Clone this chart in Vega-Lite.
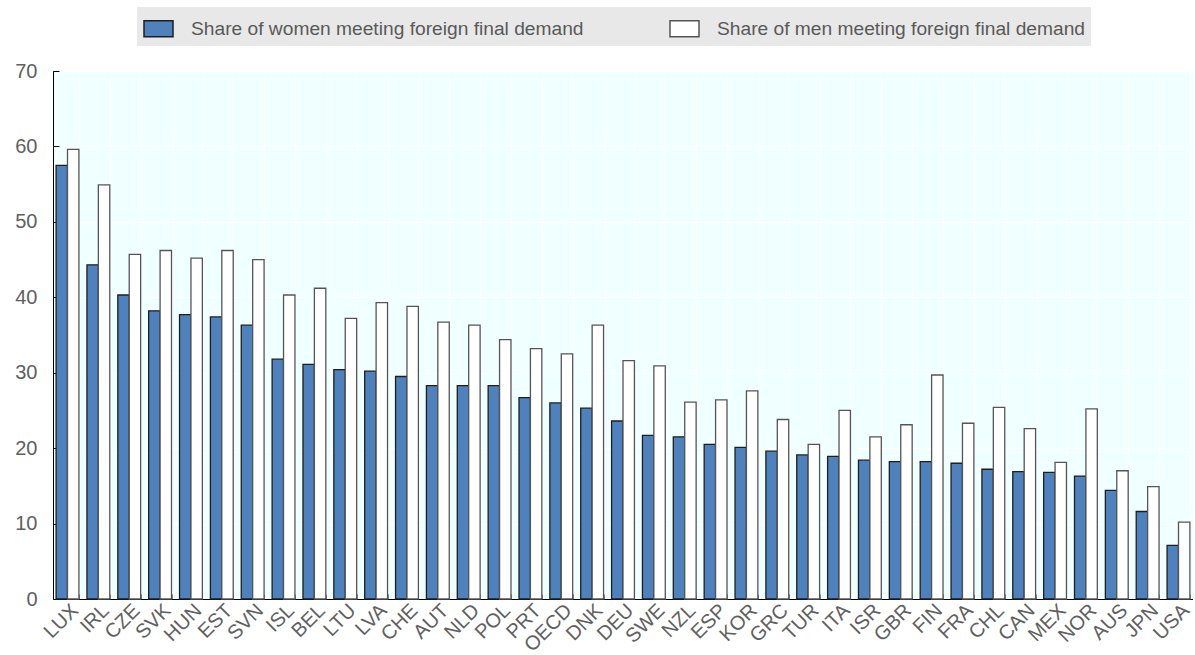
{
  "$schema": "https://vega.github.io/schema/vega-lite/v6.json",
  "autosize": {"type": "none"},
  "padding": {"left": 53, "top": 71, "right": 0, "bottom": 56},
  "width": 1140,
  "height": 528,
  "background": "#ffffff",
  "data": {"values": [
    {"country": "LUX", "sex": "Share of women meeting foreign final demand", "value": 57.5},
    {"country": "LUX", "sex": "Share of men meeting foreign final demand", "value": 59.6},
    {"country": "IRL", "sex": "Share of women meeting foreign final demand", "value": 44.3},
    {"country": "IRL", "sex": "Share of men meeting foreign final demand", "value": 54.9},
    {"country": "CZE", "sex": "Share of women meeting foreign final demand", "value": 40.3},
    {"country": "CZE", "sex": "Share of men meeting foreign final demand", "value": 45.7},
    {"country": "SVK", "sex": "Share of women meeting foreign final demand", "value": 38.2},
    {"country": "SVK", "sex": "Share of men meeting foreign final demand", "value": 46.2},
    {"country": "HUN", "sex": "Share of women meeting foreign final demand", "value": 37.7},
    {"country": "HUN", "sex": "Share of men meeting foreign final demand", "value": 45.2},
    {"country": "EST", "sex": "Share of women meeting foreign final demand", "value": 37.4},
    {"country": "EST", "sex": "Share of men meeting foreign final demand", "value": 46.2},
    {"country": "SVN", "sex": "Share of women meeting foreign final demand", "value": 36.3},
    {"country": "SVN", "sex": "Share of men meeting foreign final demand", "value": 45.0},
    {"country": "ISL", "sex": "Share of women meeting foreign final demand", "value": 31.8},
    {"country": "ISL", "sex": "Share of men meeting foreign final demand", "value": 40.3},
    {"country": "BEL", "sex": "Share of women meeting foreign final demand", "value": 31.1},
    {"country": "BEL", "sex": "Share of men meeting foreign final demand", "value": 41.2},
    {"country": "LTU", "sex": "Share of women meeting foreign final demand", "value": 30.4},
    {"country": "LTU", "sex": "Share of men meeting foreign final demand", "value": 37.2},
    {"country": "LVA", "sex": "Share of women meeting foreign final demand", "value": 30.2},
    {"country": "LVA", "sex": "Share of men meeting foreign final demand", "value": 39.3},
    {"country": "CHE", "sex": "Share of women meeting foreign final demand", "value": 29.5},
    {"country": "CHE", "sex": "Share of men meeting foreign final demand", "value": 38.8},
    {"country": "AUT", "sex": "Share of women meeting foreign final demand", "value": 28.3},
    {"country": "AUT", "sex": "Share of men meeting foreign final demand", "value": 36.7},
    {"country": "NLD", "sex": "Share of women meeting foreign final demand", "value": 28.3},
    {"country": "NLD", "sex": "Share of men meeting foreign final demand", "value": 36.3},
    {"country": "POL", "sex": "Share of women meeting foreign final demand", "value": 28.3},
    {"country": "POL", "sex": "Share of men meeting foreign final demand", "value": 34.4},
    {"country": "PRT", "sex": "Share of women meeting foreign final demand", "value": 26.7},
    {"country": "PRT", "sex": "Share of men meeting foreign final demand", "value": 33.2},
    {"country": "OECD", "sex": "Share of women meeting foreign final demand", "value": 26.0},
    {"country": "OECD", "sex": "Share of men meeting foreign final demand", "value": 32.5},
    {"country": "DNK", "sex": "Share of women meeting foreign final demand", "value": 25.3},
    {"country": "DNK", "sex": "Share of men meeting foreign final demand", "value": 36.3},
    {"country": "DEU", "sex": "Share of women meeting foreign final demand", "value": 23.6},
    {"country": "DEU", "sex": "Share of men meeting foreign final demand", "value": 31.6},
    {"country": "SWE", "sex": "Share of women meeting foreign final demand", "value": 21.7},
    {"country": "SWE", "sex": "Share of men meeting foreign final demand", "value": 30.9},
    {"country": "NZL", "sex": "Share of women meeting foreign final demand", "value": 21.5},
    {"country": "NZL", "sex": "Share of men meeting foreign final demand", "value": 26.1},
    {"country": "ESP", "sex": "Share of women meeting foreign final demand", "value": 20.5},
    {"country": "ESP", "sex": "Share of men meeting foreign final demand", "value": 26.4},
    {"country": "KOR", "sex": "Share of women meeting foreign final demand", "value": 20.1},
    {"country": "KOR", "sex": "Share of men meeting foreign final demand", "value": 27.6},
    {"country": "GRC", "sex": "Share of women meeting foreign final demand", "value": 19.6},
    {"country": "GRC", "sex": "Share of men meeting foreign final demand", "value": 23.8},
    {"country": "TUR", "sex": "Share of women meeting foreign final demand", "value": 19.1},
    {"country": "TUR", "sex": "Share of men meeting foreign final demand", "value": 20.5},
    {"country": "ITA", "sex": "Share of women meeting foreign final demand", "value": 18.9},
    {"country": "ITA", "sex": "Share of men meeting foreign final demand", "value": 25.0},
    {"country": "ISR", "sex": "Share of women meeting foreign final demand", "value": 18.4},
    {"country": "ISR", "sex": "Share of men meeting foreign final demand", "value": 21.5},
    {"country": "GBR", "sex": "Share of women meeting foreign final demand", "value": 18.2},
    {"country": "GBR", "sex": "Share of men meeting foreign final demand", "value": 23.1},
    {"country": "FIN", "sex": "Share of women meeting foreign final demand", "value": 18.2},
    {"country": "FIN", "sex": "Share of men meeting foreign final demand", "value": 29.7},
    {"country": "FRA", "sex": "Share of women meeting foreign final demand", "value": 18.0},
    {"country": "FRA", "sex": "Share of men meeting foreign final demand", "value": 23.3},
    {"country": "CHL", "sex": "Share of women meeting foreign final demand", "value": 17.2},
    {"country": "CHL", "sex": "Share of men meeting foreign final demand", "value": 25.4},
    {"country": "CAN", "sex": "Share of women meeting foreign final demand", "value": 16.9},
    {"country": "CAN", "sex": "Share of men meeting foreign final demand", "value": 22.6},
    {"country": "MEX", "sex": "Share of women meeting foreign final demand", "value": 16.8},
    {"country": "MEX", "sex": "Share of men meeting foreign final demand", "value": 18.1},
    {"country": "NOR", "sex": "Share of women meeting foreign final demand", "value": 16.3},
    {"country": "NOR", "sex": "Share of men meeting foreign final demand", "value": 25.2},
    {"country": "AUS", "sex": "Share of women meeting foreign final demand", "value": 14.4},
    {"country": "AUS", "sex": "Share of men meeting foreign final demand", "value": 17.0},
    {"country": "JPN", "sex": "Share of women meeting foreign final demand", "value": 11.6},
    {"country": "JPN", "sex": "Share of men meeting foreign final demand", "value": 14.9},
    {"country": "USA", "sex": "Share of women meeting foreign final demand", "value": 7.1},
    {"country": "USA", "sex": "Share of men meeting foreign final demand", "value": 10.2}
  ]},
  "mark": {"type": "bar", "strokeWidth": 1.3},
  "encoding": {
    "x": {
      "field": "country", "type": "nominal", "sort": null,
      "scale": {"paddingInner": 0.26, "paddingOuter": 0.1},
      "axis": {
        "title": null, "labelAngle": -45, "labelAlign": "right", "labelBaseline": "top",
        "labelFontSize": 20, "labelColor": "#606060", "labelFont": "Liberation Sans",
        "labelPadding": 6, "tickBand": "extent", "ticks": true, "tickSize": -5,
        "tickColor": "#808080", "domainColor": "#000000", "grid": true, "gridColor": "#ffffff", "gridWidth": 1
      }
    },
    "xOffset": {
      "field": "sex", "type": "nominal",
      "sort": ["Share of women meeting foreign final demand", "Share of men meeting foreign final demand"]
    },
    "y": {
      "field": "value", "type": "quantitative",
      "scale": {"domain": [0, 70], "nice": false},
      "axis": {
        "title": null, "values": [0, 10, 20, 30, 40, 50, 60, 70],
        "labelFontSize": 20, "labelColor": "#606060", "labelFont": "Liberation Sans",
        "labelPadding": 22, "tickSize": -6, "tickColor": "#000000",
        "domainColor": "#000000", "grid": true, "gridColor": "#ffffff", "gridWidth": 1
      }
    },
    "fill": {
      "field": "sex", "type": "nominal",
      "sort": ["Share of women meeting foreign final demand", "Share of men meeting foreign final demand"],
      "scale": {"range": ["#4F81BD", "#FFFFFF"]},
      "legend": {
        "title": null, "orient": "none", "direction": "horizontal",
        "legendX": 84, "legendY": -64, "padding": 6,
        "fillColor": "#E8E8E8",
        "symbolType": "M-1,-0.55H1V0.55H-1Z", "symbolSize": 841, "symbolStrokeWidth": 1.5,
        "labelFontSize": 19.2, "labelFont": "Liberation Sans", "labelColor": "#595959",
        "labelOffset": 17, "columnPadding": 83, "labelLimit": 600,
        "encode": {"symbols": {"update": {
          "fill": {"scale": "fill", "field": "value"},
          "stroke": {"scale": "stroke", "field": "value"},
          "fillOpacity": {"value": 1}
        }}}
      }
    },
    "stroke": {
      "field": "sex", "type": "nominal",
      "sort": ["Share of women meeting foreign final demand", "Share of men meeting foreign final demand"],
      "scale": {"range": ["#1E1E1E", "#555555"]},
      "legend": null
    }
  },
  "config": {
    "view": {"fill": "#F0FFFF", "stroke": "#000000", "strokeWidth": 1},
    "font": "Liberation Sans"
  }
}
